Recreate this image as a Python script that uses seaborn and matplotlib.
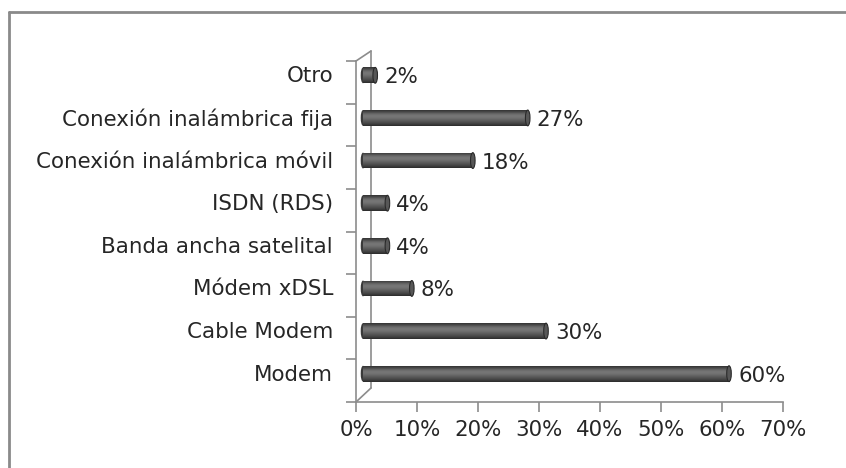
import numpy as np
import pandas as pd
import matplotlib
matplotlib.use("Agg")
import matplotlib.pyplot as plt
import matplotlib.transforms as mtransforms
from matplotlib.patches import Ellipse
from matplotlib.lines import Line2D
import seaborn as sns

categories = ["Otro", "Conexión inalámbrica fija", "Conexión inalámbrica móvil",
              "ISDN (RDS)", "Banda ancha satelital", "Módem xDSL", "Cable Modem", "Modem"]
values = [2, 27, 18, 4, 4, 8, 30, 60]
xticks = [0, 10, 20, 30, 40, 50, 60, 70]
xtick_labels = ["0%", "10%", "20%", "30%", "40%", "50%", "60%", "70%"]
value_labels = [f"{v}%" for v in values]

sns.set_theme(style="white")
plt.rcParams["font.family"] = ["DejaVu Sans"]
FS = 15.4

W, H, DPI = 846, 468, 100
fig = plt.figure(figsize=(W / DPI, H / DPI), dpi=DPI)
ax = fig.add_axes([356 / W, 1 - 402 / H, 427 / W, 341 / H])

df = pd.DataFrame({"cat": categories, "val": values})
sns.barplot(data=df, y="cat", x="val", orient="h", color="#505050",
            width=0.37, ax=ax, saturation=1)

ax.set_xlim(0, 70)
ax.set_ylim(len(categories) - 0.5, -0.5)

# 3D-like depth offset (pixels -> inches)
dx, dy = 7 / DPI, 7 / DPI
off = mtransforms.ScaledTranslation(dx, dy, fig.dpi_scale_trans)
tr = ax.transData + off

grad_cols = np.array([
    [0.20, 0.20, 0.20], [0.30, 0.30, 0.30], [0.42, 0.42, 0.42], [0.47, 0.47, 0.47],
    [0.44, 0.44, 0.44], [0.38, 0.38, 0.38], [0.32, 0.32, 0.32], [0.25, 0.25, 0.25],
    [0.17, 0.17, 0.17]])
yy = np.linspace(0, 1, 60)
grad = np.stack([np.interp(yy, np.linspace(0, 1, len(grad_cols)), grad_cols[:, c]) for c in range(3)], axis=-1)
grad = grad[:, None, :]

cap_w = 0.75
for p, v, lab in zip(ax.patches, values, value_labels):
    x0, y0 = p.get_x(), p.get_y()
    w, h = p.get_width(), p.get_height()
    p.set_transform(tr)
    p.set_facecolor("none")
    p.set_edgecolor("none")
    le = Ellipse((x0, y0 + h / 2), cap_w, h, transform=tr, facecolor="#3a3a3a",
                 edgecolor="none", zorder=2)
    ax.add_patch(le)
    im = ax.imshow(grad, extent=[x0, x0 + w, y0 + h, y0], aspect="auto",
                   transform=tr, zorder=3, interpolation="bilinear")
    im.set_clip_path(p)
    re = Ellipse((x0 + w, y0 + h / 2), cap_w, h, transform=tr, facecolor="#575757",
                 edgecolor="#2a2a2a", lw=0.8, zorder=4)
    ax.add_patch(re)
    ax.annotate(lab, xy=(x0 + w, y0 + h / 2), xycoords=tr, xytext=(9, -2),
                textcoords="offset pixels", ha="left", va="center",
                fontsize=FS, color="#262626")

ax.set_xlim(0, 70)
ax.set_ylim(len(categories) - 0.5, -0.5)

axis_col = "#8c8c8c"
for s in ["top", "right"]:
    ax.spines[s].set_visible(False)
for s in ["left", "bottom"]:
    ax.spines[s].set_color(axis_col)
    ax.spines[s].set_linewidth(1.2)
ax.set_xlabel("")
ax.set_ylabel("")
ax.set_xticks(xticks)
ax.set_xticklabels(xtick_labels)
ax.tick_params(axis="x", direction="out", length=7, width=1.2, color=axis_col,
               pad=6, labelsize=FS, labelcolor="#262626", bottom=True)
ax.set_yticks(np.arange(len(categories)))
ax.set_yticklabels(categories)
ax.set_yticks(np.arange(len(categories) + 1) - 0.5, minor=True)
ax.tick_params(axis="y", which="major", length=0, pad=16.5, labelsize=FS,
               labelcolor="#262626")
ax.tick_params(axis="y", which="minor", direction="out", length=7, width=1.2,
               color=axis_col, left=True)
lab_off = mtransforms.ScaledTranslation(0, 8 / DPI, fig.dpi_scale_trans)
for t in ax.get_yticklabels():
    t.set_transform(t.get_transform() + lab_off)

# back wall of the 3D frame
bx = 15 / 427
by_b = 14 / 341
by_t = 1 + 10 / 341
ax.add_line(Line2D([bx, bx], [by_b, by_t], transform=ax.transAxes, color=axis_col,
                   lw=1.2, clip_on=False))
ax.add_line(Line2D([0, bx], [0, by_b], transform=ax.transAxes, color=axis_col,
                   lw=1.2, clip_on=False))
ax.add_line(Line2D([0, bx], [1, by_t], transform=ax.transAxes, color=axis_col,
                   lw=1.2, clip_on=False))

# outer chart frame (top and left edges)
fig.add_artist(Line2D([9 / W, 1], [1 - 12 / H, 1 - 12 / H], transform=fig.transFigure,
                      color="#8a8a8a", lw=2))
fig.add_artist(Line2D([9 / W, 9 / W], [0, 1 - 12 / H], transform=fig.transFigure,
                      color="#8a8a8a", lw=2))

fig.savefig("out.png", dpi=DPI, facecolor="white")
